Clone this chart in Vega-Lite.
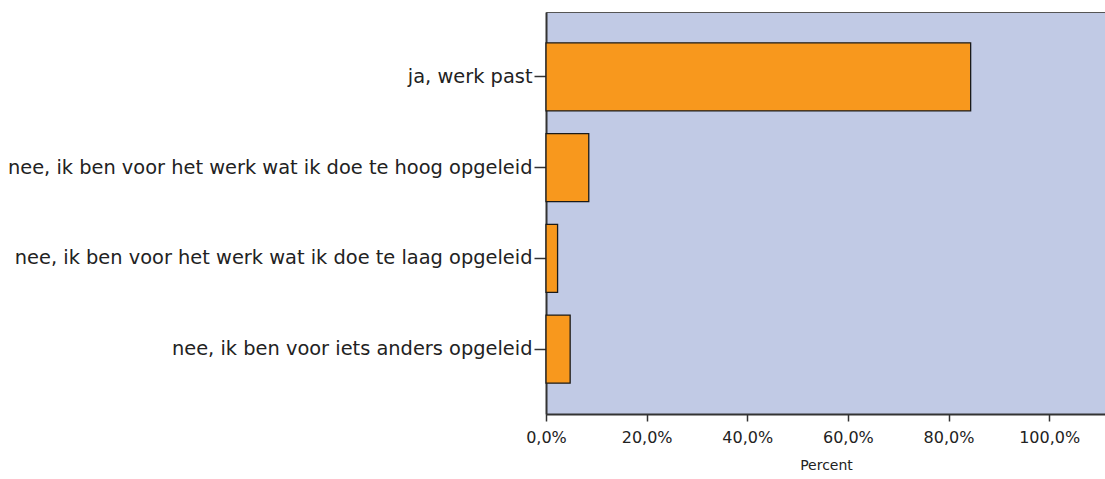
{
  "$schema": "https://vega.github.io/schema/vega-lite/v6.json",
  "autosize": {"type": "none"},
  "padding": {"left": 546, "top": 12, "right": 0, "bottom": 65},
  "width": 560,
  "height": 402,
  "background": "#ffffff",
  "config": {
    "view": {"fill": "#c1cae5", "stroke": "#555555", "strokeWidth": 1},
    "font": "DejaVu Sans"
  },
  "data": {
    "values": [
      {"antwoord": "ja, werk past", "percent": 84.4},
      {"antwoord": "nee, ik ben voor het werk wat ik doe te hoog opgeleid", "percent": 8.5},
      {"antwoord": "nee, ik ben voor het werk wat ik doe te laag opgeleid", "percent": 2.3},
      {"antwoord": "nee, ik ben voor iets anders opgeleid", "percent": 4.8}
    ]
  },
  "mark": {"type": "bar", "fill": "#f8981d", "stroke": "#1a1a1a", "strokeWidth": 1.3, "opacity": 1},
  "encoding": {
    "y": {
      "field": "antwoord",
      "type": "nominal",
      "sort": null,
      "scale": {"paddingInner": 0.25, "paddingOuter": 0.34},
      "axis": {
        "title": null,
        "labelFont": "DejaVu Sans",
        "labelFontSize": 19.4,
        "labelColor": "#222222",
        "labelLimit": 600,
        "tickSize": 12,
        "tickColor": "#333333",
        "tickWidth": 1.5,
        "labelPadding": 2,
        "domainColor": "#333333",
        "domainWidth": 2
      }
    },
    "x": {
      "field": "percent",
      "type": "quantitative",
      "scale": {"domain": [0, 111.3], "nice": false, "zero": true},
      "axis": {
        "values": [0, 20, 40, 60, 80, 100],
        "labelExpr": "replace(format(datum.value, '.1f'), '.', ',') + '%'",
        "title": "Percent",
        "titleFont": "DejaVu Sans",
        "titleFontSize": 14,
        "titleFontWeight": "normal",
        "titleColor": "#222222",
        "titlePadding": 13,
        "labelFont": "DejaVu Sans",
        "labelFontSize": 16,
        "labelColor": "#222222",
        "labelPadding": 8,
        "labelFlush": false,
        "tickSize": 7,
        "tickColor": "#333333",
        "tickWidth": 1.5,
        "domainColor": "#333333",
        "domainWidth": 2,
        "grid": false
      }
    }
  }
}
